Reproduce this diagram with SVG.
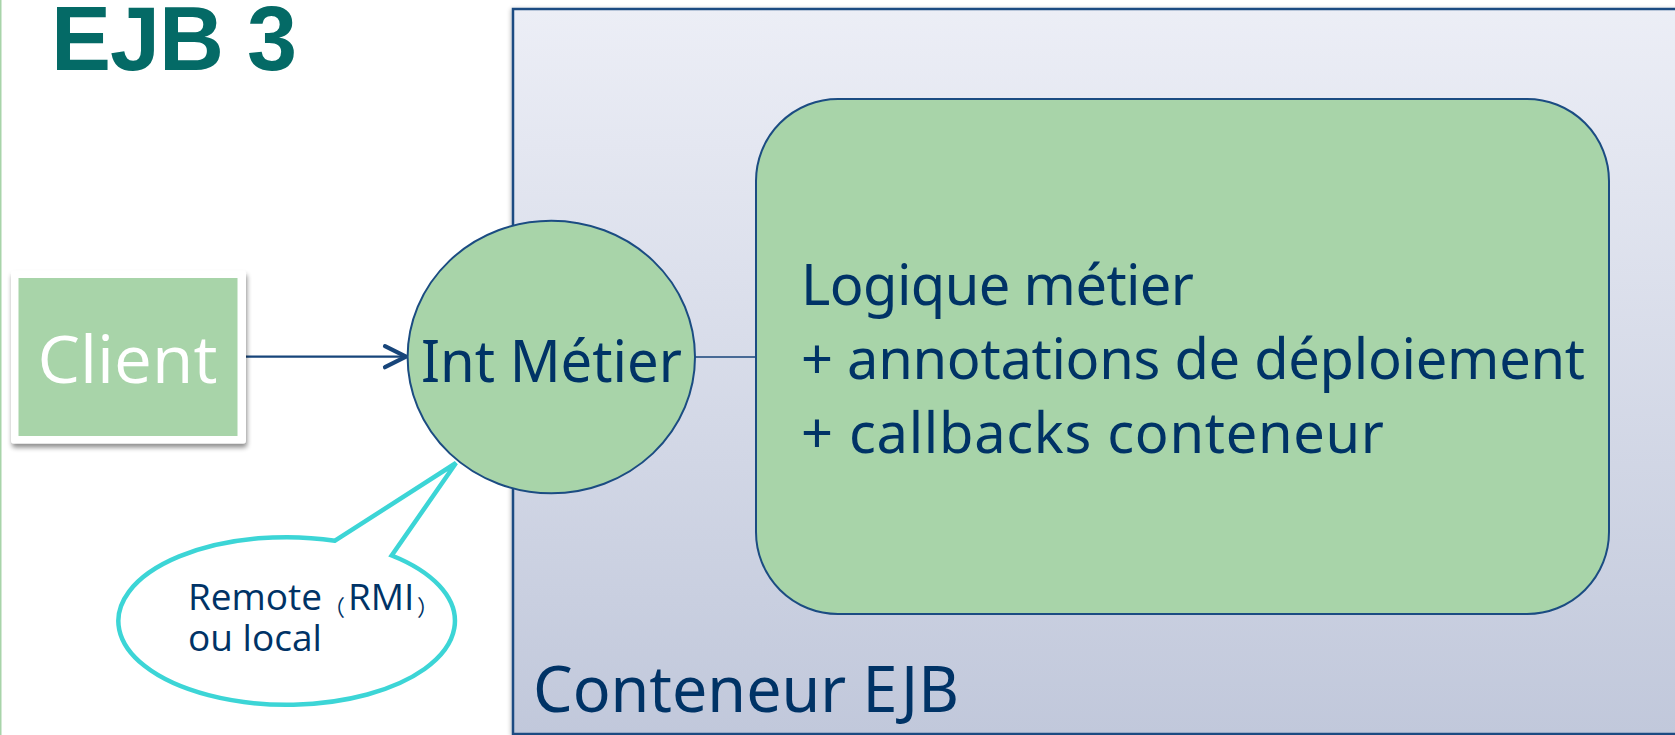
<svg xmlns="http://www.w3.org/2000/svg" width="1675" height="735" viewBox="0 0 1675 735">
  <defs>
    <linearGradient id="containerFill" x1="0" y1="0" x2="0" y2="1">
      <stop offset="0" stop-color="#eceef6"/>
      <stop offset="1" stop-color="#c1c8db"/>
    </linearGradient>
    <filter id="softShadow" x="-10%" y="-10%" width="125%" height="130%">
      <feGaussianBlur in="SourceAlpha" stdDeviation="2.5"/>
      <feOffset dx="1" dy="4" result="blur"/>
      <feComponentTransfer><feFuncA type="linear" slope="0.45"/></feComponentTransfer>
      <feMerge><feMergeNode/><feMergeNode in="SourceGraphic"/></feMerge>
    </filter>
    <filter id="edgeShadow" x="-5%" y="-5%" width="110%" height="110%">
      <feGaussianBlur in="SourceAlpha" stdDeviation="2"/>
      <feOffset dx="-1" dy="1"/>
      <feComponentTransfer><feFuncA type="linear" slope="0.25"/></feComponentTransfer>
      <feMerge><feMergeNode/><feMergeNode in="SourceGraphic"/></feMerge>
    </filter>
    <marker id="openArrow" markerUnits="userSpaceOnUse" viewBox="-26 -15 30 30" refX="0" refY="0" markerWidth="30" markerHeight="30" orient="auto" overflow="visible">
      <path d="M -21,-10.5 L 0,0 L -21,10.5" fill="none" stroke="#17457a" stroke-width="4.2" stroke-linecap="round" stroke-linejoin="round"/>
    </marker>
    <style>
      .green { fill: #a8d4a9; }
      .outline { stroke: #1b4c82; stroke-width: 2; }
      .navy { fill: #003366; }
      .body { font-family: "Noto Sans", "Open Sans", sans-serif; }
      .wire { stroke: #17457a; fill: none; }
      .paren { font-family: "Noto Sans CJK JP", sans-serif; font-size: 22px; }
    </style>
  </defs>

  <!-- page background and left accent rule -->
  <rect x="0" y="0" width="1675" height="735" fill="#ffffff"/>
  <rect x="0" y="0" width="1.5" height="735" fill="#a8d4a9"/>

  <!-- slide title -->
  <text id="title" x="51" y="70" font-family="Liberation Sans, Arial, sans-serif" font-weight="bold" font-size="90" fill="#046a66" textLength="246" lengthAdjust="spacing">EJB 3</text>

  <!-- EJB container -->
  <g id="container">
    <rect x="513" y="9" width="1220" height="725" fill="url(#containerFill)" stroke="#1b4c82" stroke-width="2.5" filter="url(#edgeShadow)"/>
    <text x="533" y="712" class="body navy" font-size="64" textLength="426" lengthAdjust="spacingAndGlyphs">Conteneur EJB</text>
  </g>

  <!-- connectors -->
  <g id="connectors">
    <line class="wire" x1="245" y1="356.7" x2="406" y2="356.7" stroke-width="2.2" marker-end="url(#openArrow)"/>
    <line class="wire" x1="695" y1="357" x2="756" y2="357" stroke-width="1.6"/>
  </g>

  <!-- client box -->
  <g id="client" filter="url(#softShadow)">
    <rect x="11" y="270.5" width="235" height="173" rx="3" fill="#ffffff"/>
    <rect x="18.5" y="278" width="219" height="158" class="green"/>
    <text x="127.5" y="383" text-anchor="middle" font-family="Open Sans, Noto Sans, sans-serif" font-size="66" fill="#ffffff" textLength="180" lengthAdjust="spacingAndGlyphs">Client</text>
  </g>

  <!-- business interface -->
  <g id="interface">
    <ellipse cx="551.3" cy="357" rx="143.7" ry="136.3" class="green outline"/>
    <text x="421" y="382" class="body navy" font-size="58" textLength="261" lengthAdjust="spacingAndGlyphs">Int Métier</text>
  </g>

  <!-- bean implementation -->
  <g id="bean">
    <rect x="756" y="99" width="853" height="515" rx="82" ry="82" class="green outline"/>
    <text class="body navy" font-size="56" lengthAdjust="spacingAndGlyphs">
      <tspan x="801" y="305" textLength="393">Logique métier</tspan>
    </text>
    <text class="body navy" font-size="56" lengthAdjust="spacingAndGlyphs">
      <tspan x="801" y="379" textLength="784">+ annotations de déploiement</tspan>
    </text>
    <text class="body navy" font-size="56" lengthAdjust="spacingAndGlyphs">
      <tspan x="801" y="453" textLength="583">+ callbacks conteneur</tspan>
    </text>
  </g>

  <!-- callout on the interface -->
  <g id="callout">
    <path d="M 335,540.7 L 456,463 L 391.7,555.5 A 168.3 83.8 0 1 1 335,540.7 Z" fill="#ffffff" stroke="#3cd5d6" stroke-width="4.5" stroke-linejoin="miter"/>
    <text class="navy" font-family="Open Sans, Noto Sans, sans-serif" font-size="37">
      <tspan x="188" y="610">Remote</tspan><tspan x="323" y="615" class="paren">（</tspan><tspan x="348" y="610">RMI</tspan><tspan x="417" y="615" class="paren">）</tspan>
      <tspan x="188" y="651">ou local</tspan>
    </text>
  </g>
</svg>
